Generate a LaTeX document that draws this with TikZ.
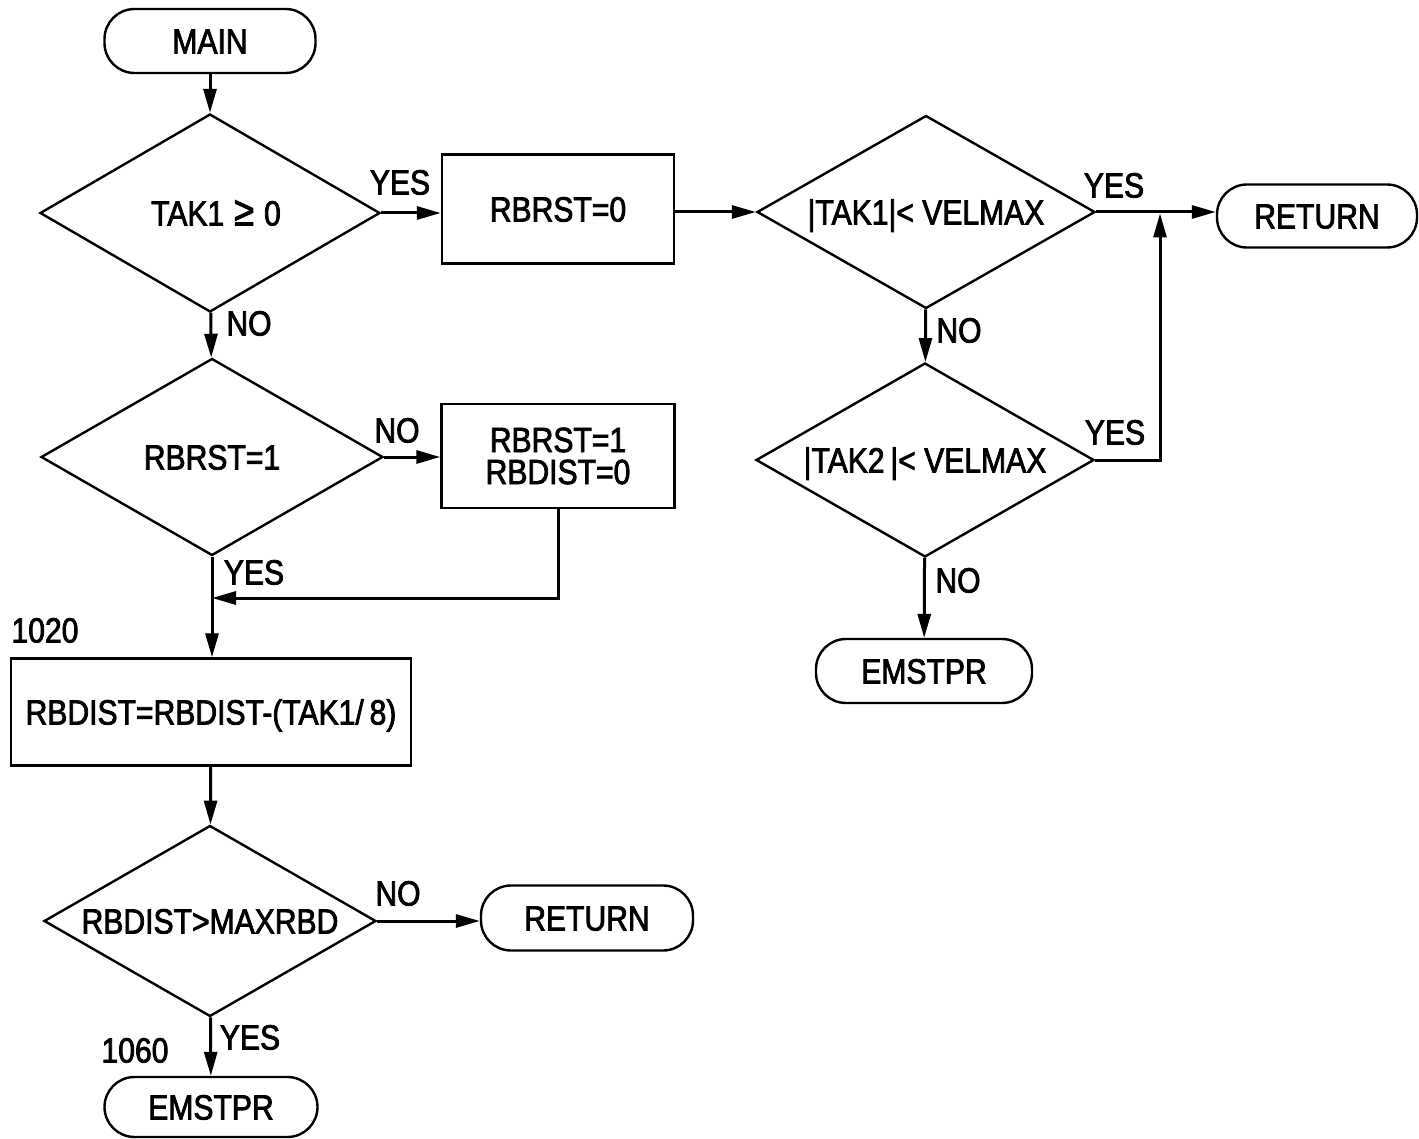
\documentclass[tikz,border=0pt]{standalone}
\usepackage{fontspec}
\setmainfont{Liberation Sans}[FakeStretch=0.86,FakeBold=2.2]
\usetikzlibrary{shapes.geometric,arrows.meta}
\begin{document}
\begin{tikzpicture}[x=1pt,y=-1pt,
  every node/.style={font=\fontsize{35}{32}\selectfont, text height=25pt, text depth=0pt, inner sep=0pt},
  box/.style={draw, line width=2.4pt, rectangle},
  term/.style={draw, line width=2.4pt, rectangle, rounded corners=30pt},
  dec/.style={draw, line width=2.4pt, diamond},
  arr/.style={line width=3pt, -{Triangle[length=24pt,width=13pt]}},
  lbl/.style={}]
\useasboundingbox (0,0) rectangle (1419,1139);

% shapes
\node[term, minimum width=211pt, minimum height=64pt] (main) at (210,41) {MAIN};
\node[dec, minimum width=340pt, minimum height=198pt] (d1) at (210,213) {\makebox[0pt]{\kern12pt TAK1\kern10pt{\fontsize{42}{32}\selectfont ≥}\kern10pt 0}};
\node[box, minimum width=232pt, minimum height=109pt] (p1) at (558,209) {RBRST=0};
\node[dec, minimum width=338pt, minimum height=193pt] (d2) at (926,212) {\makebox[0pt]{|TAK1|< VELMAX}};
\node[term, minimum width=200pt, minimum height=63pt] (r1) at (1317,216) {RETURN};
\node[dec, minimum width=338pt, minimum height=194pt] (d3) at (925,460) {\makebox[0pt]{|TAK2\,|< VELMAX}};
\node[term, minimum width=216pt, minimum height=64pt] (e1) at (924,671) {EMSTPR};
\node[dec, minimum width=342pt, minimum height=197pt] (d4) at (212,457) {\makebox[0pt]{RBRST=1}};
\node[box, minimum width=233pt, minimum height=104pt, align=center, text height={}, text depth={}] (p2) at (558,456) {RBRST=1\\RBDIST=0};
\node[box, minimum width=400pt, minimum height=107pt] (p3) at (211,712) {RBDIST=RBDIST-(TAK1/\,8)};
\node[dec, minimum width=332pt, minimum height=191pt] (d5) at (210,921) {\makebox[0pt]{RBDIST>MAXRBD}};
\node[term, minimum width=212pt, minimum height=65pt] (r2) at (587,918) {RETURN};
\node[term, minimum width=213pt, minimum height=60pt] (e2) at (211,1107) {EMSTPR};

\coordinate (j) at (1160,212);
\coordinate (m) at (212,598);

% connectors
\draw[arr] (main) -- (d1);
\draw[arr] (d1.east) -- (p1.west |- d1.east);
\draw[arr] (p1.east |- d2.west) -- (d2.west);
\draw[arr] (d2.east) -- (r1.west |- d2.east);
\draw[arr] (d2) -- (d3);
\draw[arr, shorten >=1.5pt] (d3.east) -| (j);
\draw[arr] (d3) -- (e1);
\draw[arr] (d1) -- (d4);
\draw[arr] (d4.east) -- (p2.west |- d4.east);
\draw[arr] (p2.south) |- (m);
\draw[arr] (d4.south) -- (p3.north -| d4.south);
\draw[arr] (p3) -- (d5);
\draw[arr] (d5.east) -- (r2.west |- d5.east);
\draw[arr] (d5) -- (e2);

% labels
\node[lbl] (l1) at (400,182) {YES};
\node[lbl] (l2) at (249,323) {NO};
\node[lbl] (l3) at (1114,185) {YES};
\node[lbl] (l4) at (959,330) {NO};
\node[lbl] (l5) at (1115,432) {YES};
\node[lbl] (l6) at (958,580) {NO};
\node[lbl] (l7) at (397,430) {NO};
\node[lbl] (l8) at (254,572) {YES};
\node[lbl] (l9) at (45,630) {1020};
\node[lbl] (l10) at (398,893) {NO};
\node[lbl] (l11) at (250,1037) {YES};
\node[lbl] (l12) at (135,1050) {1060};
\end{tikzpicture}
\end{document}
